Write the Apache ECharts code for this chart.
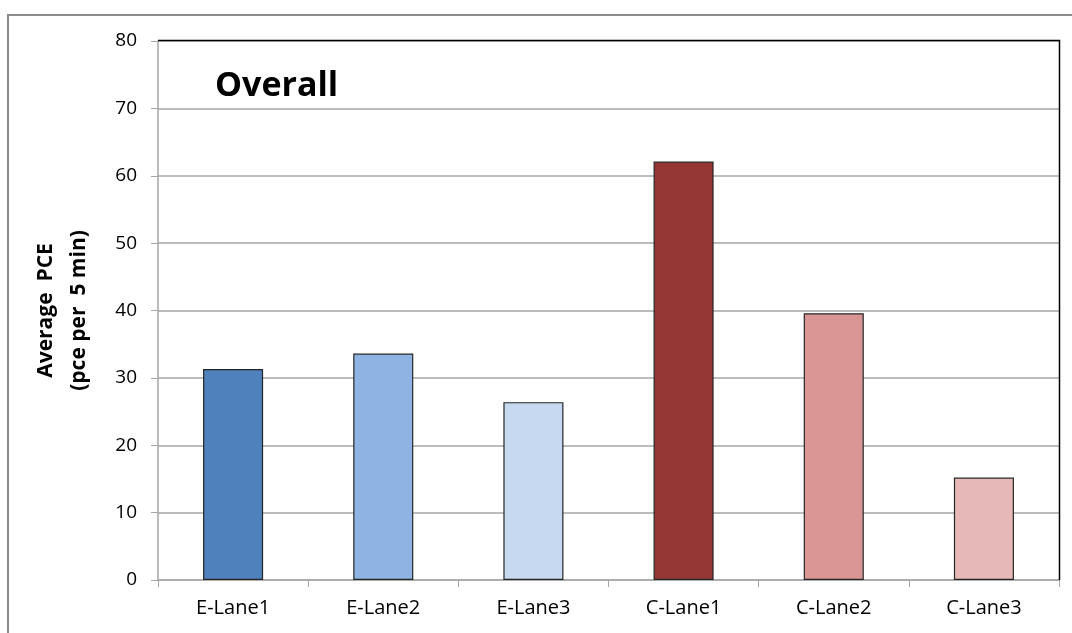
<!DOCTYPE html>
<html>
<head>
<meta charset="utf-8">
<script src="https://cdn.jsdelivr.net/npm/echarts@6/dist/echarts.min.js"></script>
<style>
  html, body { margin: 0; padding: 0; background: #fff; }
  #chart { width: 1072px; height: 633px; }
</style>
</head>
<body>
<div id="chart"></div>
<script>
// Average PCE per lane (pce per 5 min)
const lanes = ['E-Lane1', 'E-Lane2', 'E-Lane3', 'C-Lane1', 'C-Lane2', 'C-Lane3'];
const avgPce = [31.3, 33.6, 26.4, 62.1, 39.6, 15.2];
const laneColors = ['#4F81BD', '#8EB4E3', '#C6D9F1', '#953735', '#D99694', '#E6B9B8'];
const yTicks = [0, 10, 20, 30, 40, 50, 60, 70, 80];

const font = '"Open Sans", "Noto Sans", sans-serif';
const chart = echarts.init(document.getElementById('chart'));

const grid = { left: 158, top: 41, right: 13, bottom: 53 };

chart.setOption({
  animation: false,
  backgroundColor: '#ffffff',
  graphic: [
    {
      type: 'rect',
      shape: { x: 8, y: 15, width: 1080, height: 640 },
      style: { fill: 'none', stroke: '#8c8c8c', lineWidth: 2 },
      silent: true
    },
    {
      type: 'text',
      left: 215, top: 69,
      style: { text: 'Overall', font: 'bold 34px ' + font, fill: '#000' }
    },
    {
      // top and right edge of the plot area
      type: 'polyline',
      shape: { points: [[158, 40.5], [1059.5, 40.5], [1059.5, 580]] },
      style: { stroke: '#000', lineWidth: 1.5, fill: 'none' },
      silent: true,
      z: 10
    }
  ],
  grid: grid,
  xAxis: {
    type: 'category',
    data: lanes,
    axisLine: { show: true, lineStyle: { color: '#a6a6a6', width: 1.5 } },
    axisTick: { show: true, length: 7, alignWithLabel: false, lineStyle: { color: '#a6a6a6' } },
    axisLabel: { color: '#000', fontFamily: font, fontSize: 20, margin: 18 }
  },
  yAxis: {
    type: 'value',
    min: 0, max: 80, interval: 10,
    name: 'Average  PCE\n(pce per  5 min)',
    nameLocation: 'middle',
    nameGap: 62,
    nameTextStyle: { fontFamily: font, fontSize: 21, fontWeight: 'bold', color: '#000', lineHeight: 33 },
    axisLine: { show: true, lineStyle: { color: '#a6a6a6', width: 1.5 } },
    axisTick: { show: true, length: 7, lineStyle: { color: '#a6a6a6' } },
    axisLabel: {
      color: '#000', fontFamily: font, fontSize: 19, margin: 21,
      formatter: v => (yTicks.includes(v) ? String(v) : '')
    },
    splitLine: { show: true, lineStyle: { color: '#a6a6a6', width: 1.5 } }
  },
  series: [{
    type: 'bar',
    barWidth: '40%',
    data: avgPce.map((v, i) => ({
      value: v,
      itemStyle: { color: laneColors[i], borderColor: '#262626', borderWidth: 1.2 }
    }))
  }]
});
</script>
</body>
</html>
